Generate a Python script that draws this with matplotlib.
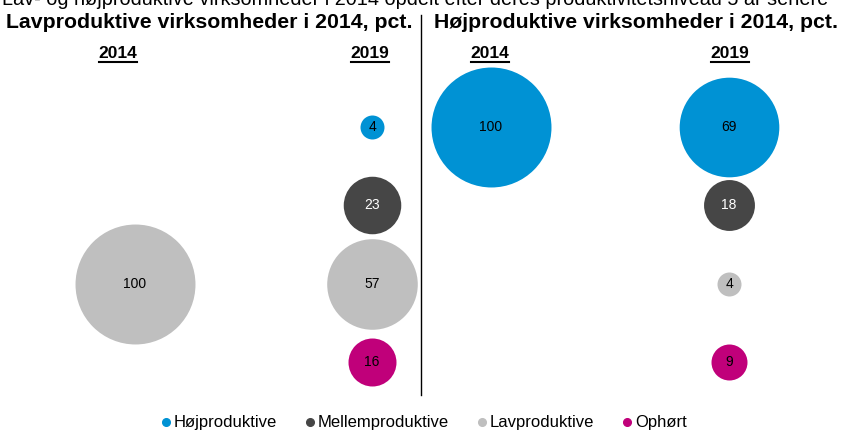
import matplotlib
matplotlib.use('Agg')
import matplotlib.pyplot as plt
from matplotlib.lines import Line2D

plt.rcParams['font.family'] = ['Liberation Sans', 'DejaVu Sans']

categories = ['Højproduktive', 'Mellemproduktive', 'Lavproduktive', 'Ophørt']
colors = ['#0092d4', '#464646', '#bfbfbf', '#c0007a']
label_colors = ['black', 'white', 'black', 'black']
years = ['2014', '2019']

# lavproduktive i 2014 -> fordeling 2019
lav_2014 = [0, 0, 100, 0]
lav_2019 = [4, 23, 57, 16]
# højproduktive i 2014 -> fordeling 2019
hoej_2014 = [100, 0, 0, 0]
hoej_2019 = [69, 18, 4, 9]

top_title = 'Lav- og højproduktive virksomheder i 2014 opdelt efter deres produktivitetsniveau 5 år senere'
panel_titles = ['Lavproduktive virksomheder i 2014, pct.', 'Højproduktive virksomheder i 2014, pct.']

W, H = 841, 433
fig = plt.figure(figsize=(W / 100, H / 100), dpi=100)

def px(x, y):
    return x / W, 1 - y / H

# axes boxes in pixels (left, right), and where columns 0/1 sit
panels = [
    dict(x0=0, x1=421, c0=135, c1=372, data=[lav_2014, lav_2019]),
    dict(x0=421, x1=841, c0=491, c1=729, data=[hoej_2014, hoej_2019]),
]
ytop, ybot = 40, 395
row0, rowstep = 127, 78.4
size_per_pct = 74.6  # marker area (pt^2) per percentage point

for p in panels:
    ax = fig.add_axes([p['x0'] / W, 1 - ybot / H, (p['x1'] - p['x0']) / W, (ybot - ytop) / H])
    step = p['c1'] - p['c0']
    ax.set_xlim((p['x0'] - p['c0']) / step, (p['x1'] - p['c0']) / step)
    ax.set_ylim((ybot - row0) / rowstep, (ytop - row0) / rowstep)
    ax.axis('off')
    for j, col in enumerate(p['data']):
        for i, v in enumerate(col):
            if v <= 0:
                continue
            ax.scatter(j, i, s=v * size_per_pct, color=colors[i], linewidths=0)
            ax.text(j, i, str(v), ha='center', va='center', fontsize=10, color=label_colors[i])

# top title, cut off at the edge
fig.text(*px(2, 5), top_title, ha='left', va='baseline', fontsize=14.3)

fig.text(*px(209, 22), panel_titles[0], ha='center', va='center', fontsize=15.3, fontweight='bold')
fig.text(*px(636, 22), panel_titles[1], ha='center', va='center', fontsize=15.3, fontweight='bold')

# divider
fig.add_artist(Line2D([421 / W, 421 / W], [1 - 15 / H, 1 - 395 / H], color='black', lw=1))

year_pos = [118, 370, 490, 730]
year_txt = []
for k, x in enumerate(year_pos):
    t = fig.text(*px(x, 53), years[k % 2], ha='center', va='center', fontsize=12.5, fontweight='bold')
    year_txt.append(t)

fig.canvas.draw()
r = fig.canvas.get_renderer()
for t in year_txt:
    bb = t.get_window_extent(r)
    y = bb.y0 - 1
    fig.add_artist(Line2D([bb.x0 / W, bb.x1 / W], [y / H, y / H], color='black', lw=1.5))

handles = [Line2D([], [], marker='o', ls='', color=c, markersize=5.5) for c in colors]
fig.legend(handles, categories, loc='center', bbox_to_anchor=px(423, 423), ncol=4,
           frameon=False, fontsize=12, handletextpad=0.05, handlelength=0.8,
           columnspacing=1.6)

fig.savefig('out.png', dpi=100)
